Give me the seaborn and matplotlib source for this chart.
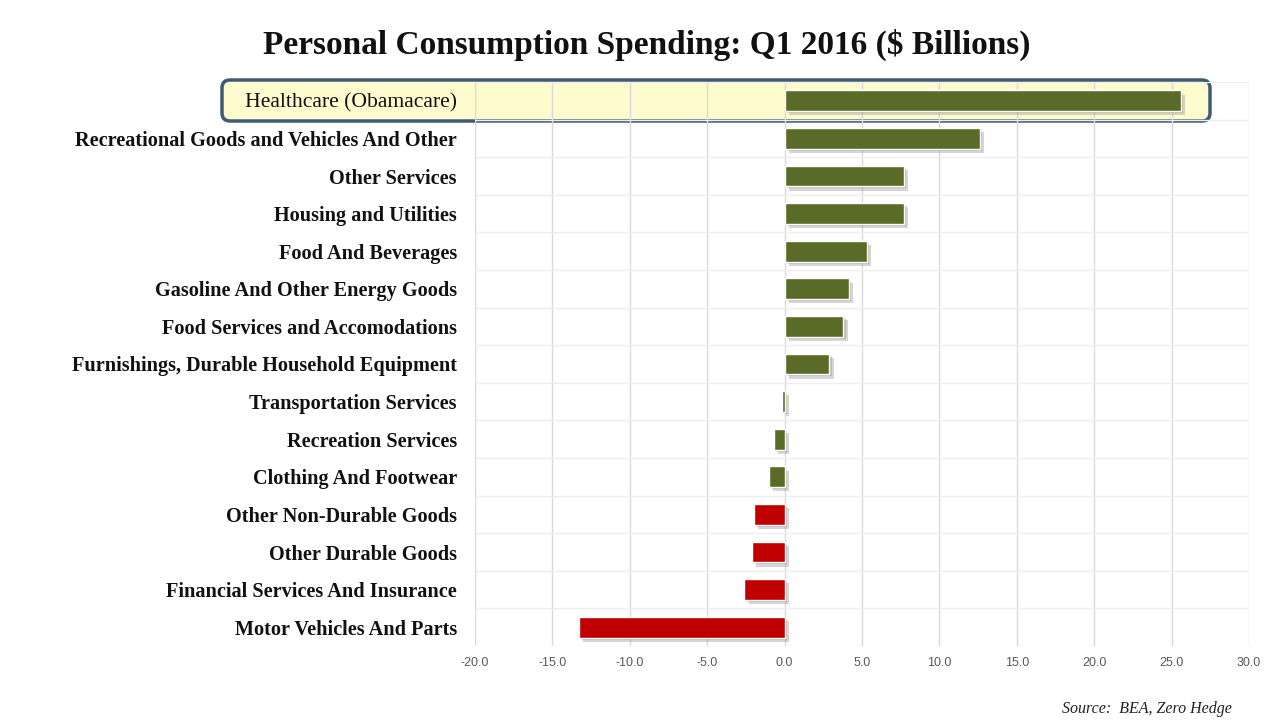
import matplotlib
matplotlib.use("Agg")
import matplotlib.pyplot as plt
import matplotlib.patheffects as pe
from matplotlib.patches import FancyBboxPatch
from matplotlib.transforms import IdentityTransform
import numpy as np
import pandas as pd
import seaborn as sns

# Change in spending by category, $ billions
categories = [
    "Healthcare (Obamacare)",
    "Recreational Goods and Vehicles And Other",
    "Other Services",
    "Housing and Utilities",
    "Food And Beverages",
    "Gasoline And Other Energy Goods",
    "Food Services and Accomodations",
    "Furnishings, Durable Household Equipment",
    "Transportation Services",
    "Recreation Services",
    "Clothing And Footwear",
    "Other Non-Durable Goods",
    "Other Durable Goods",
    "Financial Services And Insurance",
    "Motor Vehicles And Parts",
]
values = [25.6, 12.6, 7.7, 7.7, 5.3, 4.15, 3.8, 2.9, -0.2, -0.7, -1.0, -2.0, -2.1, -2.6, -13.3]
groups = ["up"] * 11 + ["down"] * 4
x_ticks = [-20.0, -15.0, -10.0, -5.0, 0.0, 5.0, 10.0, 15.0, 20.0, 25.0, 30.0]

GREEN = "#596b26"
RED = "#c00000"
group_colors = {"up": GREEN, "down": RED}

df = pd.DataFrame({"category": categories, "value": values, "group": groups})

sns.set_theme(style="white")
plt.rcParams["font.family"] = ["Liberation Serif", "DejaVu Serif"]

W, H = 1274, 721
fig = plt.figure(figsize=(W / 100, H / 100), dpi=100)
fig.patch.set_facecolor("white")

# Highlight band behind the top row
band = FancyBboxPatch((222, H - 121), 988, 41,
                      boxstyle="round,pad=0,rounding_size=8",
                      transform=IdentityTransform(), facecolor="#fefbcf",
                      edgecolor="#3f5a74", linewidth=2.5, zorder=-5)
fig.patches.append(band)

ax = fig.add_axes([475 / W, 1 - 646 / H, (1249 - 475) / W, (646 - 82) / H])
ax.patch.set_alpha(0)

palette = {c: group_colors[g] for c, g in zip(categories, groups)}
sns.barplot(data=df, x="value", y="category", hue="category", palette=palette,
            order=categories, hue_order=categories, legend=False,
            orient="h", width=0.55, saturation=1, ax=ax, zorder=3)

for bar in ax.patches:
    bar.set_path_effects([
        pe.SimplePatchShadow(offset=(3, -3), shadow_rgbFace="#8a8a8a", alpha=0.35),
        pe.SimplePatchShadow(offset=(1.5, -1.5), shadow_rgbFace="#8a8a8a", alpha=0.35),
        pe.Normal(),
    ])

ax.set_xlim(-20, 30)
ax.set_ylim(len(categories) - 0.5, -0.5)
ax.set_xticks(x_ticks)
ax.set_xticklabels([f"{t:.1f}" for t in x_ticks])
ax.set_xlabel("")
ax.set_ylabel("")

# Grid: vertical at major ticks, faint horizontal every half row
ax.set_yticks(np.arange(-0.5, len(categories), 0.5), minor=True)
ax.grid(axis="x", which="major", color="#d9d9d9", linewidth=1.0, zorder=0)
ax.grid(axis="y", which="minor", color="#eeeeee", linewidth=1.0, zorder=0)
ax.set_axisbelow(True)
for s in ax.spines.values():
    s.set_visible(False)

ax.tick_params(axis="both", which="both", length=0)
ax.tick_params(axis="y", pad=13)
ax.tick_params(axis="x", pad=8)

for lbl in ax.get_yticklabels():
    lbl.set_fontfamily(["Liberation Serif", "DejaVu Serif"])
    lbl.set_fontweight("bold")
    lbl.set_fontsize(14.6)
    lbl.set_color("#111111")
first = ax.get_yticklabels()[0]
first.set_fontweight("normal")
first.set_fontsize(15.6)

for lbl in ax.get_xticklabels():
    lbl.set_fontfamily(["Liberation Sans Narrow", "Liberation Sans", "DejaVu Sans"])
    lbl.set_fontsize(9)
    lbl.set_color("#595959")

fig.text(647 / W, 1 - 45 / H, "Personal Consumption Spending: Q1 2016 ($ Billions)",
         ha="center", va="center", fontsize=24, fontweight="bold",
         family=["Liberation Serif", "DejaVu Serif"], color="#111111")

fig.text(1232 / W, 1 - 709 / H, "Source:  BEA, Zero Hedge", ha="right", va="center",
         fontsize=11.5, fontstyle="italic", family=["Liberation Serif", "DejaVu Serif"],
         color="#222222")

fig.savefig("out.png", dpi=100, facecolor="white")
